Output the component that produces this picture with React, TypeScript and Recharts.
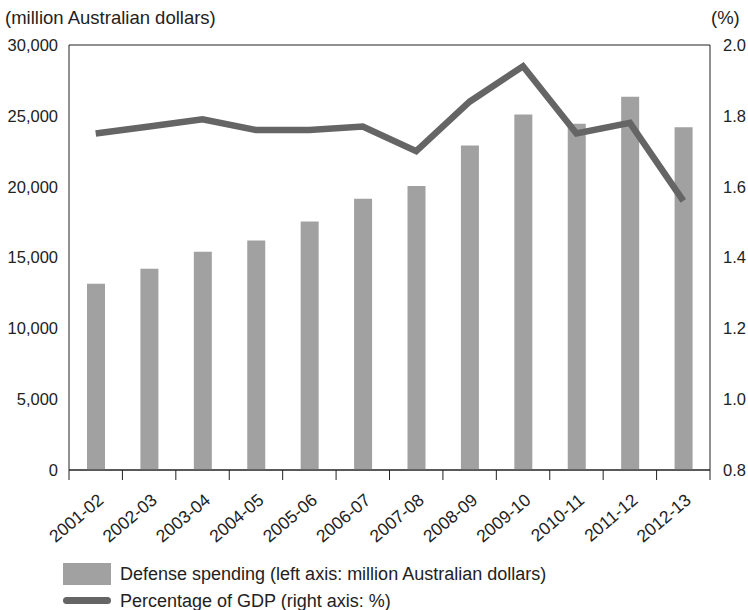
import { ComposedChart, Bar, Line, XAxis, YAxis, CartesianGrid } from "recharts";

const years = [
  "2001-02", "2002-03", "2003-04", "2004-05", "2005-06", "2006-07",
  "2007-08", "2008-09", "2009-10", "2010-11", "2011-12", "2012-13",
];
const spending = [13150, 14200, 15400, 16200, 17550, 19150, 20050, 22900, 25100, 24450, 26350, 24200];
const gdpShare = [1.75, 1.77, 1.79, 1.76, 1.76, 1.77, 1.7, 1.84, 1.94, 1.75, 1.78, 1.56];
const leftTicks = [0, 5000, 10000, 15000, 20000, 25000, 30000];
const rightTicks = [0.8, 1.0, 1.2, 1.4, 1.6, 1.8, 2.0];

const data = years.map((y, i) => ({ year: y, spending: spending[i], gdp: gdpShare[i] }));

const FONT = "'Liberation Sans', Arial, sans-serif";
const W = 748;
const H = 610;
const LEFT_W = 69;
const RIGHT_W = 38;
const HALF = (W - LEFT_W - RIGHT_W) / years.length / 2;

function YearTick(props: any) {
  const { x, y, payload, index } = props;
  const tx = x + 9;
  const ty = y + 32;
  return (
    <g>
      <line x1={x - HALF} y1={y} x2={x - HALF} y2={y + 10} stroke="#222" strokeWidth={1} />
      {index === years.length - 1 && (
        <line x1={x + HALF} y1={y} x2={x + HALF} y2={y + 10} stroke="#222" strokeWidth={1} />
      )}
      <text
        x={tx}
        y={ty}
        textAnchor="end"
        transform={`rotate(-40, ${tx}, ${ty})`}
        fontSize={17.5}
        fill="#222"
        fontFamily={FONT}
      >
        {payload.value}
      </text>
    </g>
  );
}

export default function App() {
  return (
    <div style={{ position: "absolute", left: 0, top: 0, width: W, height: H, background: "#fff", fontFamily: FONT, color: "#222" }}>
      <div style={{ position: "absolute", left: 5, top: 7, fontSize: 18.5 }}>(million Australian dollars)</div>
      <div style={{ position: "absolute", left: 711, top: 7, fontSize: 18.5 }}>(%)</div>
      <ComposedChart
        width={W}
        height={H}
        data={data}
        margin={{ top: 45, right: 0, left: 0, bottom: 60 }}
        style={{ position: "absolute", left: 0, top: 0 }}
      >
        <CartesianGrid vertical={false} stroke="#222" strokeWidth={1} />
        <XAxis
          dataKey="year"
          interval={0}
          tickLine={false}
          tickSize={0}
          tickMargin={0}
          height={80}
          axisLine={{ stroke: "#222" }}
          tick={<YearTick />}
        />
        <YAxis
          yAxisId="left"
          width={LEFT_W}
          domain={[0, 30000]}
          ticks={leftTicks}
          tickFormatter={(v: number) => v.toLocaleString("en-US")}
          tickLine={false}
          axisLine={{ stroke: "#222" }}
          tickMargin={5}
          tick={{ fontSize: 16.5, fill: "#222", fontFamily: FONT }}
        />
        <YAxis
          yAxisId="right"
          orientation="right"
          width={RIGHT_W}
          domain={[0.8, 2.0]}
          ticks={rightTicks}
          tickFormatter={(v: number) => v.toFixed(1)}
          tickLine={false}
          axisLine={{ stroke: "#222" }}
          tickMargin={7}
          tick={{ fontSize: 16.5, fill: "#222", fontFamily: FONT }}
        />
        <Bar yAxisId="left" dataKey="spending" fill="#a0a1a0" barSize={18} isAnimationActive={false} />
        <Line
          yAxisId="right"
          dataKey="gdp"
          stroke="#656565"
          strokeWidth={6.5}
          dot={false}
          activeDot={false}
          isAnimationActive={false}
        />
      </ComposedChart>
      <div style={{ position: "absolute", left: 63, top: 563, width: 48, height: 22, background: "#a0a1a0" }} />
      <div style={{ position: "absolute", left: 120, top: 563, fontSize: 18, lineHeight: "22px" }}>
        Defense spending (left axis: million Australian dollars)
      </div>
      <div style={{ position: "absolute", left: 63, top: 597, width: 48, height: 7, borderRadius: 4, background: "#656565" }} />
      <div style={{ position: "absolute", left: 120, top: 590, fontSize: 18, lineHeight: "22px" }}>
        Percentage of GDP (right axis: %)
      </div>
    </div>
  );
}
